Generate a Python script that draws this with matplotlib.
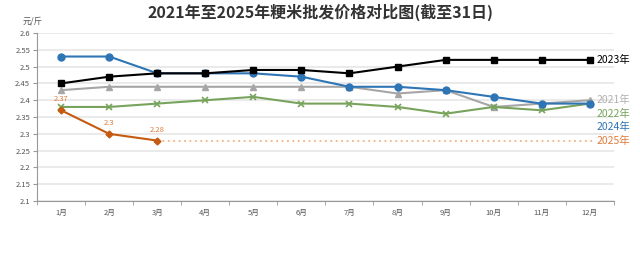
import numpy as np
import matplotlib
matplotlib.use("Agg")
import matplotlib.pyplot as plt

plt.rcParams['font.family'] = ['Noto Sans CJK SC', 'DejaVu Sans']

months = ['1月', '2月', '3月', '4月', '5月', '6月', '7月', '8月', '9月', '10月', '11月', '12月']

price_2021 = [2.43, 2.44, 2.44, 2.44, 2.44, 2.44, 2.44, 2.42, 2.43, 2.38, 2.39, 2.40]
price_2022 = [2.38, 2.38, 2.39, 2.40, 2.41, 2.39, 2.39, 2.38, 2.36, 2.38, 2.37, 2.39]
price_2023 = [2.45, 2.47, 2.48, 2.48, 2.49, 2.49, 2.48, 2.50, 2.52, 2.52, 2.52, 2.52]
price_2024 = [2.53, 2.53, 2.48, 2.48, 2.48, 2.47, 2.44, 2.44, 2.43, 2.41, 2.39, 2.39]
price_2025 = [2.37, 2.30, 2.28]

x = np.arange(len(months))

fig = plt.figure(figsize=(6.4, 2.66), dpi=100)
ax = fig.add_axes([0.058, 0.244, 0.901, 0.632])

# grid
ax.set_ylim(2.1, 2.6)
ax.set_yticks(np.arange(2.1, 2.601, 0.05))
ax.set_yticklabels(['2.1', '2.15', '2.2', '2.25', '2.3', '2.35', '2.4', '2.45', '2.5', '2.55', '2.6'])
ax.yaxis.grid(True, color='#e6e6e6', linewidth=1.2)
ax.set_axisbelow(True)

c21, c22, c23, c24, c25 = '#a6a6a6', '#77a35c', '#000000', '#2e75b6', '#c55a11'

ax.plot(x, price_2021, color=c21, lw=1.5, marker='^', ms=4, zorder=3)
ax.plot(x, price_2022, color=c22, lw=1.5, marker='x', ms=4, mew=1.2, zorder=3)
ax.plot(x, price_2024, color=c24, lw=1.5, marker='o', ms=5, zorder=4)
ax.plot(x, price_2023, color=c23, lw=1.5, marker='s', ms=4.5, zorder=5)
x25 = x[:len(price_2025)]
ax.plot(x25, price_2025, color=c25, lw=1.5, marker='D', ms=3.5, zorder=6)
ax.plot([x25[-1], x[-1] + 0.1], [price_2025[-1]] * 2, color='#f4b183', lw=1.3,
        linestyle=(0, (1, 2)), zorder=2)

for xi, v in zip(x25, price_2025):
    ax.annotate(f'{v:g}', (xi, v), xytext=(0, 5), textcoords='offset points',
                ha='center', va='bottom', fontsize=5.5, color='#e07b39')

# series labels on the right
lab_x = x[-1] + 0.15
ax.text(lab_x, price_2023[-1], '2023年', color=c23, fontsize=7.5, va='center')
ax.text(lab_x, 2.400, '2021年', color='#b0b0b0', fontsize=7.5, va='center')
ax.text(lab_x, 2.360, '2022年', color=c22, fontsize=7.5, va='center')
ax.text(lab_x, 2.320, '2024年', color=c24, fontsize=7.5, va='center')
ax.text(lab_x, price_2025[-1], '2025年', color='#e07b39', fontsize=7.5, va='center')

ax.set_xlim(-0.48, 11.5)
ax.set_xticks(x)
ax.set_xticklabels(months)
ax.set_xticks(np.arange(-0.5, 12, 1), minor=True)
ax.tick_params(axis='x', which='major', length=0, labelsize=5.5, colors='#555555', pad=6)
ax.tick_params(axis='x', which='minor', length=3, color='#999999', direction='out')
ax.tick_params(axis='y', length=3, color='#999999', labelsize=5.5, labelcolor='#555555', pad=2)

for s in ['top', 'right']:
    ax.spines[s].set_visible(False)
for s in ['left', 'bottom']:
    ax.spines[s].set_color('#999999')

fig.text(0.5, 0.985, '2021年至2025年粳米批发价格对比图(截至31日)', ha='center', va='top',
         fontsize=11.5, fontweight='heavy', color='#333333')
fig.text(0.036, 0.905, '元/斤', fontsize=6, color='#555555', va='bottom')

fig.savefig('out.png', dpi=100)
